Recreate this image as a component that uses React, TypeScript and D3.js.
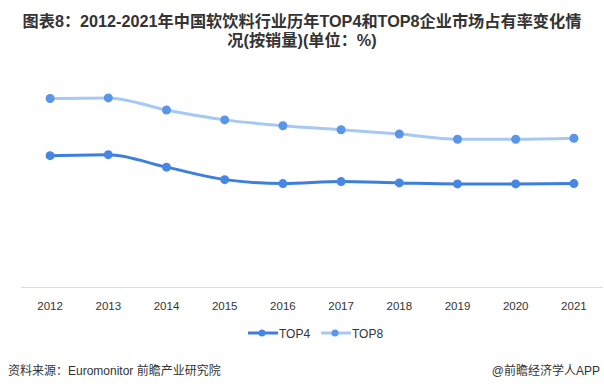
import React from "react";
import { scalePoint, scaleLinear, line as d3_line, curveMonotoneX } from "d3";

const years = ["2012", "2013", "2014", "2015", "2016", "2017", "2018", "2019", "2020", "2021"];
const top4 = [40.0, 40.3, 36.5, 32.7, 31.5, 32.1, 31.7, 31.4, 31.4, 31.5];
const top8 = [57.4, 57.6, 53.9, 50.9, 49.1, 47.9, 46.6, 45.0, 45.0, 45.3];

const titleLines = [
    "图表8：2012-2021年中国软饮料行业历年TOP4和TOP8企业市场占有率变化情",
    "况(按销量)(单位：%)",
];
const source = "资料来源：Euromonitor 前瞻产业研究院";
const credit = "@前瞻经济学人APP";

const W = 604;
const H = 392;
const font = "'Liberation Sans', 'Noto Sans CJK SC', sans-serif";

const series = [
    { name: "TOP4", values: top4, line: "#3d7fdd", dot: "#4588e3" },
    { name: "TOP8", values: top8, line: "#a6c8f5", dot: "#5a95e8" },
];

export default function App() {
    const xScale = scalePoint<string>().domain(years).range([21, 603]).padding(0.5);
    const yScale = scaleLinear().domain([0, 60]).range([287, 90]);

    const line = d3_line<number>()
        .x((_, i) => xScale(years[i]) ?? 0)
        .y((d) => yScale(d))
        .curve(curveMonotoneX);

    return (
        <svg
            width={W}
            height={H}
            style={{ position: "absolute", left: 0, top: 0, background: "#fff" }}
            fontFamily={font}
        >
            {/* Title */}
            {titleLines.map((t, i) => (
                <text
                    key={i}
                    x={W / 2}
                    y={27 + i * 19}
                    textAnchor="middle"
                    fontSize={16.2}
                    fontWeight="bold"
                    fill="#333"
                >
                    {t}
                </text>
            ))}

            {/* X axis */}
            <line x1={21} x2={603} y1={287.5} y2={287.5} stroke="#dcdcdc" strokeWidth={1} />
            {years.map((y) => (
                <text
                    key={y}
                    x={xScale(y)}
                    y={310}
                    textAnchor="middle"
                    fontSize={11.5}
                    fill="#333"
                >
                    {y}
                </text>
            ))}

            {/* Lines */}
            {series.map((s) => (
                <g key={s.name}>
                    <path d={line(s.values) ?? ""} fill="none" stroke={s.line} strokeWidth={3} />
                    {s.values.map((v, i) => (
                        <circle key={i} cx={xScale(years[i])} cy={yScale(v)} r={4.5} fill={s.dot} />
                    ))}
                </g>
            ))}

            {/* Legend */}
            {series.map((s, i) => {
                const x0 = 248 + i * 73;
                return (
                    <g key={s.name}>
                        <line x1={x0} x2={x0 + 30} y1={333} y2={333} stroke={s.line} strokeWidth={3} />
                        <circle cx={x0 + 14} cy={333} r={3.5} fill={s.dot} />
                        <text x={x0 + 31} y={337.5} fontSize={12} fill="#333">
                            {s.name}
                        </text>
                    </g>
                );
            })}

            {/* Footer */}
            <text x={8} y={375} fontSize={12} fill="#333">
                {source}
            </text>
            <text x={600} y={375} fontSize={12} fill="#333" textAnchor="end">
                {credit}
            </text>
        </svg>
    );
}
